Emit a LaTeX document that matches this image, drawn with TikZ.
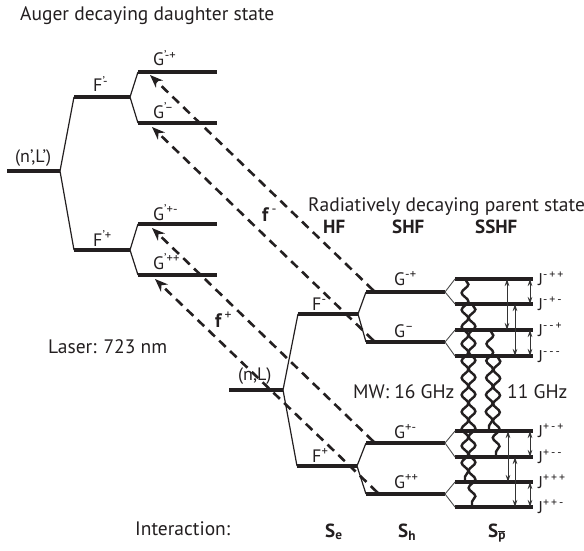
\documentclass[tikz,border=0pt]{standalone}
\usepackage{fontspec}
\setmainfont{PT Sans}
\usetikzlibrary{arrows.meta,decorations.pathmorphing}
\definecolor{ink}{RGB}{35,31,32}
\begin{document}
\begin{tikzpicture}[x=1pt,y=-1pt,
  level/.style={line width=3.6pt, ink},
  conn/.style={line width=1.2pt, ink},
  laser/.style={line width=2.6pt, ink, dash pattern=on 9pt off 6pt,
    {Circle[length=3.2pt]}-{Stealth[length=13pt,width=10pt,inset=4pt]}},
  split/.style={line width=0.9pt, black!70},
  splitarr/.style={line width=0.8pt, black!80, {Stealth[length=7pt,width=4.5pt]}-{Stealth[length=7pt,width=4.5pt]}},
  mw/.style={line width=2.4pt, ink, decorate, decoration={snake, segment length=17pt, amplitude=3.4pt}},
  big/.style={inner sep=0pt, anchor=base west, text=ink, font=\fontsize{19.5}{22}\selectfont},
  lab/.style={inner sep=0pt, anchor=base west, text=ink, font=\fontsize{18}{20}\selectfont},
  jlab/.style={inner sep=0pt, anchor=base west, text=ink, font=\fontsize{17}{19}\selectfont},
  hdr/.style={inner sep=0pt, anchor=base west, text=ink, font=\fontsize{19}{21}\selectfont\bfseries},
]
\fill[white] (0,0) rectangle (584,551);
\useasboundingbox (0,0) rectangle (584,551);

% ---------- daughter state coordinates ----------
\coordinate (nLpA) at (7,171);   \coordinate (nLpB) at (60,171);
\coordinate (FpmA) at (74,97);   \coordinate (FpmB) at (130,97);
\coordinate (GpmpA) at (138,72); \coordinate (GpmpB) at (217,72);
\coordinate (GpmmA) at (138,123);\coordinate (GpmmB) at (217,123);
\coordinate (FppA) at (74,250);  \coordinate (FppB) at (130,250);
\coordinate (GppmA) at (138,224);\coordinate (GppmB) at (217,224);
\coordinate (GpppA) at (138,275);\coordinate (GpppB) at (217,275);

% ---------- parent state coordinates ----------
\coordinate (nLA) at (229,390);  \coordinate (nLB) at (283,390);
\coordinate (FmA) at (298,314);  \coordinate (FmB) at (358,314);
\coordinate (GmpA) at (366,292); \coordinate (GmpB) at (445,292);
\coordinate (GmmA) at (366,342); \coordinate (GmmB) at (445,342);
\coordinate (FpA) at (297,466);  \coordinate (FpB) at (357,466);
\coordinate (GpmA) at (366,443); \coordinate (GpmB) at (445,443);
\coordinate (GppA) at (366,494); \coordinate (GppB) at (445,494);

\coordinate (JmppA) at (455,279); \coordinate (JmppB) at (533,279);
\coordinate (JmpmA) at (455,304); \coordinate (JmpmB) at (533,304);
\coordinate (JmmpA) at (455,330); \coordinate (JmmpB) at (533,330);
\coordinate (JmmmA) at (455,356); \coordinate (JmmmB) at (533,356);
\coordinate (JpmpA) at (455,431); \coordinate (JpmpB) at (533,431);
\coordinate (JpmmA) at (455,457); \coordinate (JpmmB) at (533,457);
\coordinate (JpppA) at (455,482); \coordinate (JpppB) at (533,482);
\coordinate (JppmA) at (455,507); \coordinate (JppmB) at (533,507);

% ---------- levels ----------
\foreach \a/\b in {nLpA/nLpB, FpmA/FpmB, GpmpA/GpmpB, GpmmA/GpmmB, FppA/FppB, GppmA/GppmB, GpppA/GpppB,
  nLA/nLB, FmA/FmB, GmpA/GmpB, GmmA/GmmB, FpA/FpB, GpmA/GpmB, GppA/GppB,
  JmppA/JmppB, JmpmA/JmpmB, JmmpA/JmmpB, JmmmA/JmmmB, JpmpA/JpmpB, JpmmA/JpmmB, JpppA/JpppB, JppmA/JppmB}
  \draw[level] (\a) -- (\b);

% ---------- connections ----------
\foreach \a/\b in {nLpB/FpmA, nLpB/FppA, FpmB/GpmpA, FpmB/GpmmA, FppB/GppmA, FppB/GpppA,
  nLB/FmA, nLB/FpA, FmB/GmpA, FmB/GmmA, FpB/GpmA, FpB/GppA}
  \draw[conn] (\a) -- (\b);
\foreach \a/\b in {GmpB/JmppA, GmpB/JmpmA, GmmB/JmmpA, GmmB/JmmmA, GpmB/JpmpA, GpmB/JpmmA, GppB/JpppA, GppB/JppmA}
  \draw[split] (\a) -- (\b);

% ---------- laser transitions ----------
\coordinate (sA) at (375,292); \coordinate (tA) at (150,75);
\coordinate (sB) at (375,342); \coordinate (tB) at (152,127);
\coordinate (sC) at (375,443); \coordinate (tC) at (152,228);
\coordinate (sD) at (379,494); \coordinate (tD) at (155,279);
\draw[laser] (sA) -- (tA);
\draw[laser] (sB) -- (tB);
\draw[laser] (sC) -- (tC);
\draw[laser] (sD) -- (tD);

% ---------- microwave transitions ----------
\coordinate (wA1) at (465,279); \coordinate (wA2) at (465,482);
\coordinate (wB1) at (472,304); \coordinate (wB2) at (472,507);
\coordinate (wC1) at (490,330); \coordinate (wC2) at (489,431);
\coordinate (wD1) at (497,356); \coordinate (wD2) at (496,457);
\draw[mw] (wA1) -- (wA2);
\draw[mw] (wB1) -- (wB2);
\draw[mw] (wC1) -- (wC2);
\draw[mw] (wD1) -- (wD2);

% ---------- SSHF splitting arrows ----------
\coordinate (a1t) at (507,279); \coordinate (a1b) at (507,330);
\coordinate (a2t) at (515,304); \coordinate (a2b) at (515,356);
\coordinate (a3t) at (530,279); \coordinate (a3b) at (530,304);
\coordinate (a4t) at (530,330); \coordinate (a4b) at (530,356);
\coordinate (a5t) at (508,431); \coordinate (a5b) at (508,482);
\coordinate (a6t) at (515,457); \coordinate (a6b) at (515,507);
\coordinate (a7t) at (530,431); \coordinate (a7b) at (530,457);
\coordinate (a8t) at (530,482); \coordinate (a8b) at (530,507);
\foreach \t/\b in {a1t/a1b, a2t/a2b, a3t/a3b, a4t/a4b, a5t/a5b, a6t/a6b, a7t/a7b, a8t/a8b}
  \draw[splitarr] (\t) -- (\b);

% ---------- texts ----------
\node[big] (title1) at (20,21) {Auger decaying daughter state};
\node[big] (title2) at (308,211) {Radiatively decaying parent state};
\node[hdr] (hHF) at (323,233) {HF};
\node[hdr] (hSHF) at (392,233) {SHF};
\node[hdr] (hSSHF) at (475,233) {SSHF};

\node[lab] (tnLp) at (15,162) {(n',L')};
\node[lab] (tFpm) at (93,92) {F\textsuperscript{'-}};
\node[lab] (tGpmp) at (153,66) {G\textsuperscript{'-+}};
\node[lab] (tGpmm) at (153,118) {G\textsuperscript{'--}};
\node[lab] (tFpp) at (93,246) {F\textsuperscript{'+}};
\node[lab] (tGppm) at (153,220) {G\textsuperscript{'+-}};
\node[lab] (tGppp) at (153,269) {G\textsuperscript{'++}};

\node[big] (tfm) at (262,221) {\textbf{f}\textsuperscript{\,-}};
\node[big] (tfp) at (215,327) {\textbf{f}\textsuperscript{\,+}};
\node[big] (laserlab) at (48,353) {Laser: 723 nm};

\node[lab] (tnL) at (238,380) {(n,L)};
\node[lab] (tFm) at (312,310) {F\textsuperscript{-}};
\node[lab] (tFp) at (312,462) {F\textsuperscript{+}};
\node[lab] (tGmp) at (394,285) {G\textsuperscript{-+}};
\node[lab] (tGmm) at (394,337) {G\textsuperscript{--}};
\node[lab] (tGpm) at (394,438) {G\textsuperscript{+-}};
\node[lab] (tGpp) at (394,488) {G\textsuperscript{++}};

\node[big] (mwlab) at (353,398) {MW: 16 GHz};
\node[big] (mw2lab) at (507,398) {11 GHz};

\node[jlab] (tJmpp) at (538,285) {J\textsuperscript{-\,+\,+}};
\node[jlab] (tJmpm) at (538,310) {J\textsuperscript{-\,+\,-}};
\node[jlab] (tJmmp) at (538,336) {J\textsuperscript{-\,-\,+}};
\node[jlab] (tJmmm) at (538,362) {J\textsuperscript{-\,-\,-}};
\node[jlab] (tJpmp) at (538,437) {J\textsuperscript{+\,-\,+}};
\node[jlab] (tJpmm) at (538,463) {J\textsuperscript{+\,-\,-}};
\node[jlab] (tJppp) at (538,488) {J\textsuperscript{+\,+\,+}};
\node[jlab] (tJppm) at (538,513) {J\textsuperscript{+\,+\,-}};

\node[big] (inter) at (135,535) {Interaction:};
\node[hdr] (Se) at (325,537) {S\textsubscript{e}};
\node[hdr] (Sh) at (398,537) {S\textsubscript{h}};
\node[hdr] (Sp) at (488,537) {S\textsubscript{$\overline{\mbox{\bfseries p}}$}};
\end{tikzpicture}
\end{document}
